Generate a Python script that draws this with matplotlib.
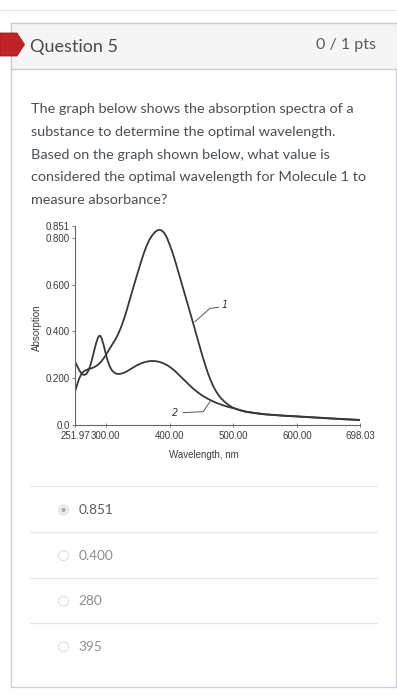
"""
Quiz screenshot: absorption spectra of two molecules (question 5).
"""

import matplotlib
matplotlib.use("Agg")
import matplotlib.pyplot as plt
from matplotlib.patches import Rectangle, Polygon, Circle

# Spectrum data (wavelength nm, absorption)
WL_1 = [251.97, 255, 258, 261, 264, 268, 272, 276, 280, 284, 288, 292, 296,
        300, 304, 308, 312, 316, 320, 324, 328, 332, 336, 340, 344, 348, 352,
        356, 360, 364, 368, 372, 376, 380, 384, 388, 392, 396, 400, 404, 408,
        412, 416, 420, 424, 428, 432, 436, 440, 444, 448, 452, 456, 460, 464,
        468, 472, 476, 480, 485, 490, 495, 500, 510, 520, 535, 550, 575, 600,
        625, 650, 675, 698.03]
ABS_1 = [0.142, 0.17, 0.195, 0.213, 0.225, 0.233, 0.238, 0.241, 0.245, 0.25,
         0.258, 0.268, 0.282, 0.298, 0.316, 0.334, 0.352, 0.37, 0.392, 0.418,
         0.448, 0.482, 0.52, 0.558, 0.595, 0.632, 0.668, 0.703, 0.737, 0.766,
         0.79, 0.808, 0.822, 0.831, 0.835, 0.831, 0.82, 0.8, 0.772, 0.742,
         0.708, 0.671, 0.633, 0.595, 0.558, 0.52, 0.482, 0.444, 0.405, 0.366,
         0.328, 0.29, 0.255, 0.222, 0.193, 0.168, 0.147, 0.13, 0.116, 0.102,
         0.09, 0.081, 0.073, 0.063, 0.056, 0.05, 0.045, 0.04, 0.036, 0.032,
         0.028, 0.024, 0.021]

WL_2 = [251.97, 255, 258, 261, 264, 267, 270, 273, 276, 279, 282, 285, 288,
        290, 292, 294, 297, 300, 303, 306, 309, 312, 316, 320, 325, 330, 336,
        342, 348, 354, 360, 366, 372, 378, 384, 390, 396, 402, 408, 414, 420,
        426, 432, 438, 444, 450, 456, 462, 468, 474, 480, 486, 492, 500, 510,
        520, 535, 550, 575, 600, 625, 650, 675, 698.03]
ABS_2 = [0.27, 0.255, 0.238, 0.224, 0.216, 0.214, 0.219, 0.233, 0.255, 0.285,
         0.318, 0.35, 0.374, 0.382, 0.38, 0.368, 0.34, 0.306, 0.276, 0.253,
         0.237, 0.227, 0.22, 0.218, 0.22, 0.225, 0.234, 0.244, 0.254, 0.262,
         0.268, 0.272, 0.274, 0.273, 0.27, 0.264, 0.256, 0.245, 0.232, 0.216,
         0.2, 0.184, 0.168, 0.153, 0.14, 0.128, 0.118, 0.109, 0.101, 0.094,
         0.088, 0.082, 0.077, 0.072, 0.064, 0.057, 0.051, 0.046, 0.041, 0.037,
         0.033, 0.029, 0.025, 0.022]

X_TICKS = [251.97, 300.0, 400.0, 500.0, 600.0, 698.03]
Y_TICKS = [0.0, 0.2, 0.4, 0.6, 0.8, 0.851]
Y_TICK_LABELS = ["0.0", "0.200", "0.400", "0.600", "0.800", "0.851"]

QUESTION_LINES = [
    "The graph below shows the absorption spectra of a",
    "substance to determine the optimal wavelength.",
    "Based on the graph shown below, what value is",
    "considered the optimal wavelength for Molecule 1 to",
    "measure absorbance?",
]
OPTIONS = ["0.851", "0.400", "280", "395"]
SELECTED = 0

INK = "#4a4f54"
CURVE = "#383838"

fig = plt.figure(figsize=(3.97, 7.0), dpi=100)

# page layer in pixel coordinates
page = fig.add_axes([0, 0, 1, 1], zorder=0)
page.set_xlim(0, 397)
page.set_ylim(700, 0)
page.axis("off")

page.plot([0, 397], [9.5, 9.5], color="#e4e4e4", lw=0.8)
page.add_patch(Rectangle((11, 23), 384.5, 664, facecolor="white",
                         edgecolor="#c7cdd1", lw=0.9))
page.add_patch(Rectangle((11, 23), 386, 46, facecolor="#f5f5f5",
                         edgecolor="#c7cdd1", lw=0.9))
page.add_patch(Polygon([(0, 33), (17, 33), (24.5, 44.5), (17, 56), (0, 56)],
                       closed=True, facecolor="#bf2328", edgecolor="#9e1b1f",
                       lw=0.6))
page.text(30, 47, "Question 5", fontsize=13, family="Lato", color="#4a4a4a",
          va="center", ha="left")
page.text(376, 45, "0 / 1 pts", fontsize=11.5, family="Lato", color="#5a5a5a",
          va="center", ha="right")

for i, line in enumerate(QUESTION_LINES):
    page.text(31, 109 + i * 22.8, line, fontsize=10.4, family="Lato",
              color=INK, va="center", ha="left")

for i, opt in enumerate(OPTIONS):
    y_sep = 486 + i * 45.8
    page.plot([30, 377], [y_sep, y_sep], color="#e6e6e6", lw=0.9)
    yc = 510 + i * 45.6
    if i == SELECTED:
        page.add_patch(Circle((63.5, yc), 5, facecolor="#ececec",
                              edgecolor="#dddddd", lw=0.6))
        page.add_patch(Circle((63.5, yc), 2, facecolor="#a8a8a8",
                              edgecolor="none"))
        tcol = "#5c5c5c"
    else:
        page.add_patch(Circle((63.5, yc), 5, facecolor="white",
                              edgecolor="#dcdcdc", lw=0.7))
        tcol = "#8e8e8e"
    page.text(78.5, yc, opt, fontsize=9.8, family="Lato", color=tcol,
              va="center", ha="left")

# chart layer
ax = fig.add_axes([75 / 397, 1 - 425 / 700, 285 / 397, 199 / 700], zorder=1)
ax.set_facecolor("none")
ax.plot(WL_1, ABS_1, color=CURVE, lw=1.3, solid_joinstyle="round")
ax.plot(WL_2, ABS_2, color=CURVE, lw=1.3, solid_joinstyle="round")
ax.set_xlim(251.97, 698.03)
ax.set_ylim(0, 0.851)

for side in ("top", "right"):
    ax.spines[side].set_visible(False)
for side in ("left", "bottom"):
    ax.spines[side].set_color("#666666")
    ax.spines[side].set_linewidth(0.8)

ax.set_xticks(X_TICKS)
ax.set_xticklabels([f"{v:.2f}" for v in X_TICKS], family="Liberation Sans",
                   fontsize=7, color="#3c3c3c")
ax.set_yticks(Y_TICKS)
ax.set_yticklabels(Y_TICK_LABELS, family="Liberation Sans", fontsize=7,
                   color="#3c3c3c")
ax.tick_params(axis="x", direction="inout", length=3, width=0.6,
               color="#666666", pad=3)
ax.tick_params(axis="y", direction="out", length=2, width=0.6,
               color="#666666", pad=1.5)

ax.set_xlabel("Wavelength, nm", family="Liberation Sans", fontsize=7,
              color="#3c3c3c", va="center")
ax.xaxis.set_label_coords(0.451, -0.151)
ax.set_ylabel("Absorption", family="Liberation Sans", fontsize=7,
              color="#3c3c3c", va="center")
ax.yaxis.set_label_coords(-0.133, 0.487)

# curve labels with leader lines
ax.plot([439.8, 463.2, 476.2], [0.442, 0.499, 0.503], color="#555555", lw=0.7)
ax.text(486.7, 0.513, "1", fontsize=7, style="italic", color="#333333",
        ha="center", va="center")
ax.plot([463.2, 452.7, 421.5], [0.10, 0.057, 0.053], color="#555555", lw=0.7)
ax.text(408.5, 0.051, "2", fontsize=7, style="italic", color="#333333",
        ha="center", va="center")

fig.savefig("out.png", dpi=100)
